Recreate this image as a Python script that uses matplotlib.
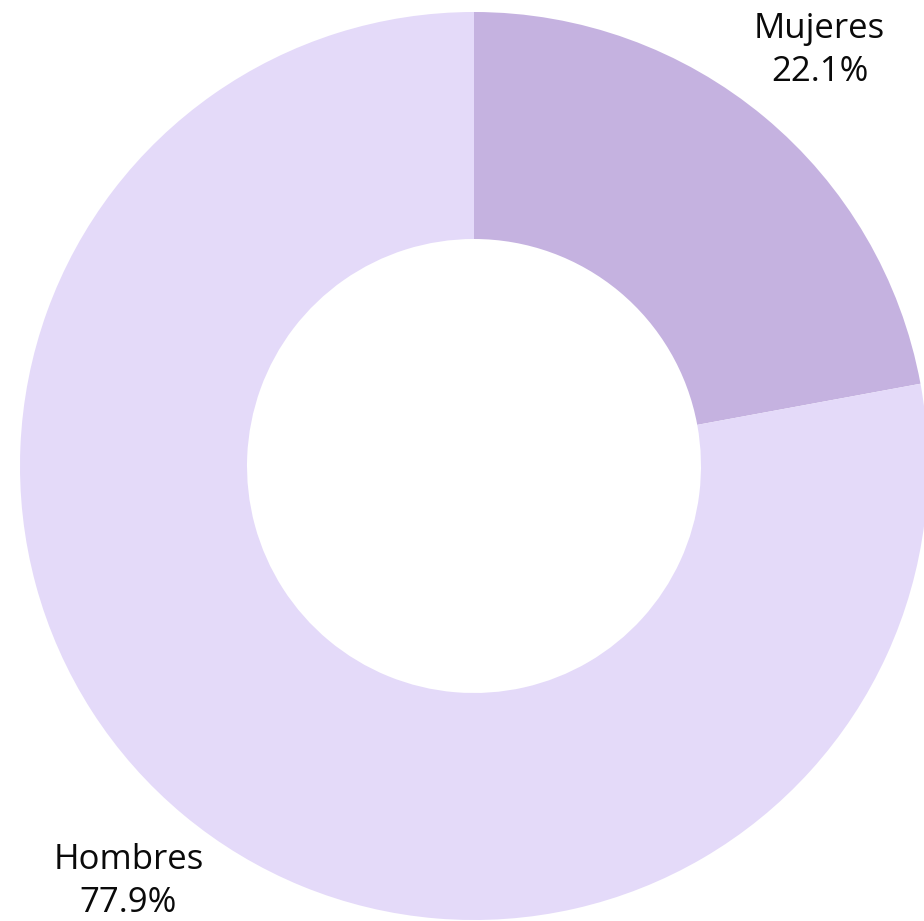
import matplotlib
matplotlib.use("Agg")
import matplotlib.pyplot as plt

categories = ["Mujeres", "Hombres"]
values = [22.1, 77.9]
colors = ["#c5b2e0", "#e4daf9"]

W, H = 924, 921
fig = plt.figure(figsize=(W / 100, H / 100), dpi=100)
ax = fig.add_axes([0, 0, 1, 1])
ax.axis("off")

labels = [f"{c}\n{v:.1f}%" for c, v in zip(categories, values)]
wedges, texts = ax.pie(values, labels=labels, colors=colors, startangle=90,
                       counterclock=False, center=(474, H - 466), radius=454,
                       labeldistance=1.19, wedgeprops=dict(width=227, linewidth=0),
                       textprops=dict(fontsize=25, family="Open Sans", color="#0a0a0a",
                                      linespacing=1.35))
for t in texts:
    t.set_ha("center")
    t.set_va("center")
ax.set_xlim(0, W)
ax.set_ylim(0, H)
fig.savefig("out.png", dpi=100)
